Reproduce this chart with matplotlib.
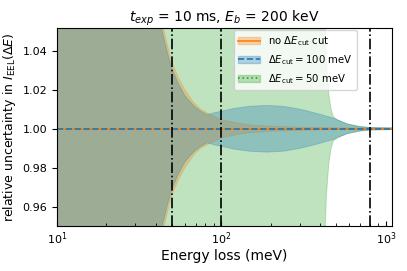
import matplotlib
matplotlib.use("Agg")
import matplotlib.pyplot as plt
from matplotlib.patches import Patch
from matplotlib.lines import Line2D
import numpy as np

# half-width of the relative uncertainty band (band = 1 +/- dev)
E_nocut = [10, 20, 30, 40, 44, 47, 50, 55, 60, 68, 75, 86, 100, 125, 150, 200, 300, 500, 800, 1090]
dev_nocut = [0.5, 0.25, 0.13, 0.07, 0.053, 0.043, 0.034, 0.026, 0.020, 0.0134, 0.010, 0.0073,
             0.0047, 0.003, 0.002, 0.0013, 0.0008, 0.0005, 0.0004, 0.0003]

E_100 = [10, 20, 30, 40, 44, 47, 50, 55, 60, 68, 75, 82, 90, 100, 120, 150, 190, 240, 300, 385,
         480, 585, 680, 775, 900, 1090]
dev_100 = [0.5, 0.25, 0.13, 0.066, 0.049, 0.039, 0.031, 0.023, 0.017, 0.0118, 0.009, 0.0072,
           0.0082, 0.009, 0.0105, 0.0116, 0.012, 0.0115, 0.0101, 0.0078, 0.0055, 0.0024,
           0.0012, 0.0007, 0.0005, 0.0005]

E_50 = [10, 100, 300, 400, 415, 425, 435, 450, 465, 480, 510, 585, 700, 800, 1090]
dev_50 = [0.3, 0.3, 0.3, 0.3, 0.2, 0.06, 0.035, 0.018, 0.010, 0.0062, 0.0045, 0.0025,
          0.0012, 0.0007, 0.0004]

vlines = [50, 100, 800]

series = [
    ("no $\\Delta E_{\\rm cut}$ cut", E_nocut, dev_nocut, "tab:orange", "-"),
    ("$\\Delta E_{\\rm cut} = 100$ meV", E_100, dev_100, "tab:blue", "--"),
    ("$\\Delta E_{\\rm cut} = 50$ meV", E_50, dev_50, "tab:green", ":"),
]

fig = plt.figure(figsize=(4.07, 2.71), dpi=100)
ax = fig.add_axes([0.140, 0.166, 0.823, 0.732])

# bands: widest (50 meV) at the back
for label, E, dev, c, ls in [series[2], series[0], series[1]]:
    E = np.array(E, float); dev = np.array(dev, float)
    ax.fill_between(E, 1 - dev, 1 + dev, color=c, alpha=0.3, lw=0.6)

handles = []
for label, E, dev, c, ls in [series[2], series[0], series[1]]:
    ax.plot(E, np.ones(len(E)), color=c, ls=ls, lw=1.2)
for label, E, dev, c, ls in series:
    handles.append((Patch(facecolor=c, alpha=0.3, edgecolor=c),
                    Line2D([], [], color=c, ls=ls, lw=1.2)))

for v in vlines:
    ax.axvline(v, color="k", ls="-.", lw=1.2)

ax.set_xscale("log")
ax.set_xlim(10, 1090)
ax.set_ylim(0.95, 1.052)
ax.set_yticks([0.96, 0.98, 1.00, 1.02, 1.04])
ax.tick_params(axis="x", which="both", direction="in")
ax.tick_params(labelsize=8)
ax.set_xlabel("Energy loss (meV)", fontsize=10, labelpad=1)
ax.set_ylabel("relative uncertainty in $I_{\\rm EEL}(\\Delta E)$", fontsize=9, labelpad=3)
ax.set_title("$t_{exp}$ = 10 ms, $E_b$ = 200 keV", fontsize=10, pad=4)
ax.legend(handles, [s[0] for s in series], loc="upper right",
          bbox_to_anchor=(0.896, 0.988), borderaxespad=0, fontsize=7.3, handlelength=2.2)

fig.savefig("out.png", dpi=100)
